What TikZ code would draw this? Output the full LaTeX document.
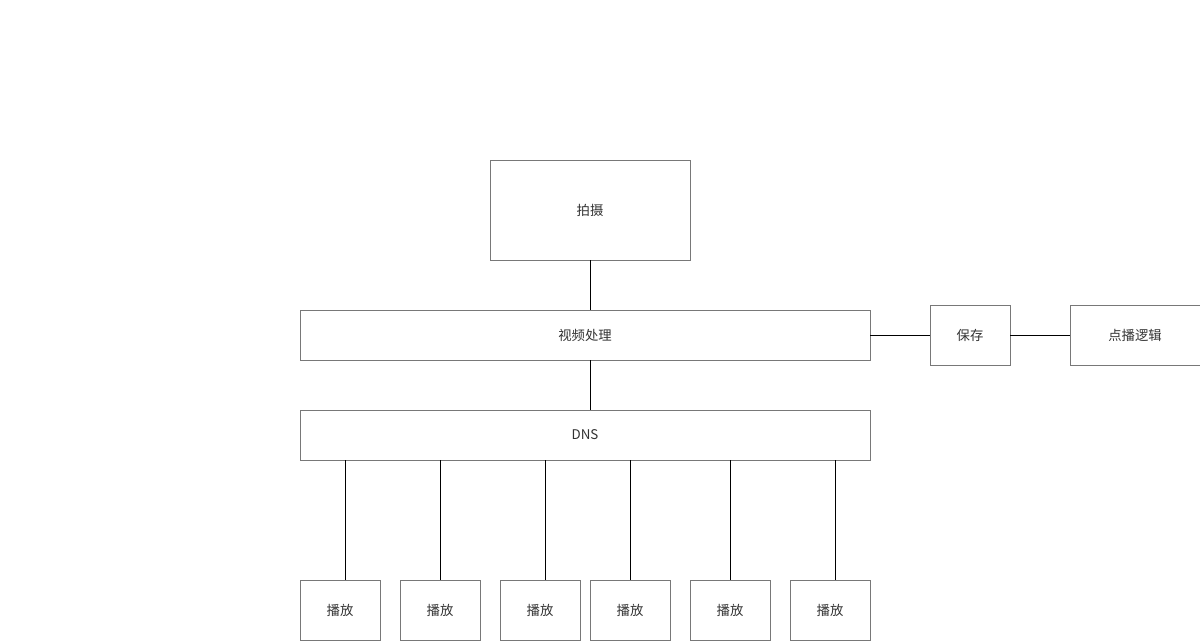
\documentclass[tikz,border=0pt]{standalone}
\usepackage{fontspec}
\setmainfont{Noto Sans CJK SC}
\usetikzlibrary{calc}
\definecolor{boxgray}{RGB}{120,120,120}
\definecolor{txtgray}{RGB}{50,50,50}
\begin{document}
\begin{tikzpicture}[x=0.02cm, y=-0.02cm,
  box/.style={draw=boxgray, line width=0.5pt, inner sep=0pt, text=txtgray,
    font=\fontsize{7.6}{9}\selectfont},
  link/.style={draw=black, line width=0.5pt}]
  \useasboundingbox (0,0) rectangle (1200,640);
  % top chain
  \node[box, minimum width=4cm, minimum height=2cm] (shoot) at (590,210) {拍摄};
  \node[box, minimum width=11.4cm, minimum height=1cm] (proc) at (585,335) {视频处理};
  \node[box, minimum width=1.6cm, minimum height=1.2cm] (save) at (970,335) {保存};
  \node[box, minimum width=2.6cm, minimum height=1.2cm] (vod) at (1135,335) {点播逻辑};
  \node[box, minimum width=11.4cm, minimum height=1cm] (dns) at (585,435) {DNS};
  % players
  \foreach \n/\cx in {1/340, 2/440, 3/540, 4/630, 5/730, 6/830}
    \node[box, minimum width=1.6cm, minimum height=1.2cm] (play\n) at (\cx,610) {播放};
  \draw[link] (shoot.south) -- (shoot.south |- proc.north);
  \draw[link] (proc.south -| shoot.south) -- (dns.north -| shoot.south);
  \draw[link] (proc.east) -- (save.west);
  \draw[link] (save.east) -- (vod.west);
  % DNS to players, some off centre
  \foreach \n/\dx in {1/5, 2/0, 3/5, 4/0, 5/0, 6/5}
    \draw[link] ([xshift=\dx*0.02cm]play\n.north) -- ([xshift=\dx*0.02cm]play\n.north |- dns.south);
\end{tikzpicture}
\end{document}
